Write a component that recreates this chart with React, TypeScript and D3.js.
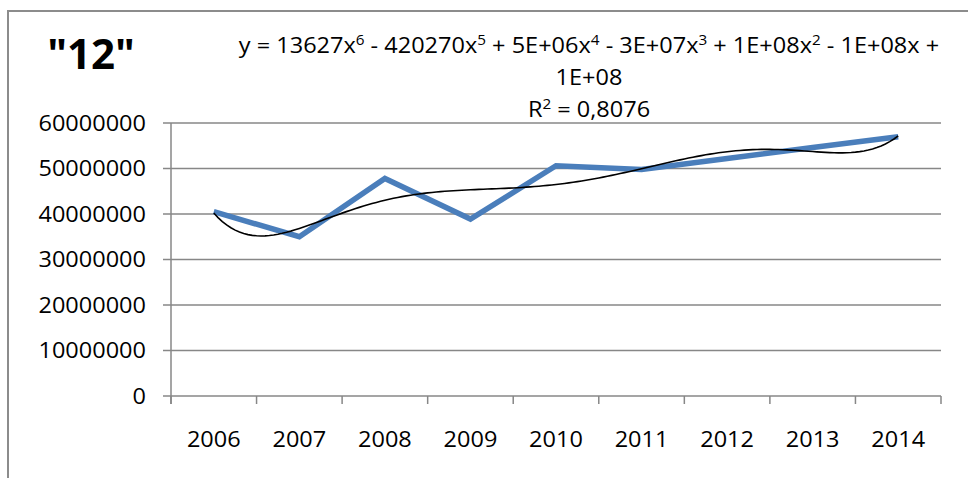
import React from "react";
import * as d3 from "d3";

const categories = ["2006", "2007", "2008", "2009", "2010", "2011", "2012", "2013", "2014"];
const values = [40500000, 35000000, 47800000, 38900000, 50600000, 49800000, 52200000, 54600000, 57000000];
const yTicks = [0, 10000000, 20000000, 30000000, 40000000, 50000000, 60000000];
const titleText = '"12"';
const equationLines = ["y = 13627x⁶ - 420270x⁵ + 5E+06x⁴ - 3E+07x³ + 1E+08x² - 1E+08x +", "1E+08", "R² = 0,8076"];

const SUP: Record<string, string> = { "²": "2", "³": "3", "⁴": "4", "⁵": "5", "⁶": "6" };

function renderSup(t: string) {
  const parts: { s: string; sup: boolean }[] = [];
  for (const ch of t) {
    const sup = ch in SUP;
    const c = sup ? SUP[ch] : ch;
    const last = parts[parts.length - 1];
    if (last && last.sup === sup) last.s += c;
    else parts.push({ s: c, sup });
  }
  return parts.map((p, i) =>
    p.sup ? (
      <tspan key={i} baselineShift="super" fontSize="65%">
        {p.s}
      </tspan>
    ) : (
      <tspan key={i}>{p.s}</tspan>
    )
  );
}

function polyFit(xs: number[], ys: number[], deg: number): number[] {
  const n = deg + 1;
  const A: number[][] = Array.from({ length: n }, () => new Array(n + 1).fill(0));
  for (let r = 0; r < n; r++) {
    for (let c = 0; c < n; c++) {
      A[r][c] = xs.reduce((s, x) => s + Math.pow(x, r + c), 0);
    }
    A[r][n] = xs.reduce((s, x, i) => s + Math.pow(x, r) * ys[i], 0);
  }
  for (let i = 0; i < n; i++) {
    let p = i;
    for (let k = i + 1; k < n; k++) if (Math.abs(A[k][i]) > Math.abs(A[p][i])) p = k;
    [A[i], A[p]] = [A[p], A[i]];
    for (let k = i + 1; k < n; k++) {
      const f = A[k][i] / A[i][i];
      for (let j = i; j <= n; j++) A[k][j] -= f * A[i][j];
    }
  }
  const coef = new Array(n).fill(0);
  for (let i = n - 1; i >= 0; i--) {
    let s = A[i][n];
    for (let j = i + 1; j < n; j++) s -= A[i][j] * coef[j];
    coef[i] = s / A[i][i];
  }
  return coef;
}

export default function App() {
  const W = 968, H = 478;
  const left = 171, right = 941, top = 123, bottom = 396;
  const x = d3.scaleBand<string>().domain(categories).range([left, right]);
  const y = d3.scaleLinear().domain([0, 60000000]).range([bottom, top]);
  const cx = (c: string) => (x(c) as number) + x.bandwidth() / 2;

  const line = d3.line<number>().x((_, i) => cx(categories[i])).y((d) => y(d));

  // 6th order polynomial trendline, least squares on x = 1..n (scaled for stability)
  const xs = categories.map((_, i) => (i + 1) / 5);
  const coef = polyFit(xs, values.map((v) => v / 1e7), 6);
  const evalP = (t: number) => coef.reduce((s, c, k) => s + c * Math.pow(t, k), 0) * 1e7;
  const trendPts = d3.range(0, 8.0001, 0.05).map((u) => {
    const px = cx(categories[0]) + u * x.step();
    return [px, y(evalP((u + 1) / 5))] as [number, number];
  });
  const trend = d3.line().curve(d3.curveLinear)(trendPts) as string;

  const font = "'Open Sans', 'DejaVu Sans', sans-serif";
  const stretch = 1.12;
  const grid = "#878787";

  return (
    <svg width={W} height={H} style={{ position: "absolute", left: 0, top: 0, background: "#fff" }}>
      <rect x={0} y={0} width={W} height={H} fill="#fff" />
      {/* chart border (cropped) */}
      <path d={`M8,${H + 5} L8,11 L${W + 5},11`} fill="none" stroke="#8c8c8c" strokeWidth={2} />

      {/* title */}
      <text x={91} y={69} textAnchor="middle" fontFamily={font} fontWeight="bold" fontSize={42} fill="#000">
        {titleText}
      </text>

      {/* equation */}
      {equationLines.map((t, i) => (
        <text
          key={i}
          transform={`translate(589,${[53, 85, 117][i]}) scale(${stretch},1)`}
          textAnchor="middle"
          fontFamily={font}
          fontSize={21}
          fill="#000"
        >
          {renderSup(t)}
        </text>
      ))}

      {/* gridlines */}
      {yTicks.map((t) => (
        <g key={t}>
          <line x1={left - 8} x2={right} y1={y(t)} y2={y(t)} stroke={grid} strokeWidth={1.5} />
          <text
            transform={`translate(146,${y(t) + 7.5}) scale(${stretch},1)`}
            textAnchor="end"
            fontFamily={font}
            fontSize={21}
            fill="#000"
          >
            {t}
          </text>
        </g>
      ))}
      {/* y axis */}
      <line x1={left} x2={left} y1={top} y2={bottom + 8} stroke={grid} strokeWidth={1.5} />
      {/* x ticks */}
      {categories.concat([""]).map((c, i) => {
        const px = left + i * x.step();
        return <line key={i} x1={px} x2={px} y1={bottom} y2={bottom + 8} stroke={grid} strokeWidth={1.5} />;
      })}
      {categories.map((c) => (
        <text
          key={c}
          transform={`translate(${cx(c)},447) scale(${stretch},1)`}
          textAnchor="middle"
          fontFamily={font}
          fontSize={21}
          fill="#000"
        >
          {c}
        </text>
      ))}

      {/* data line */}
      <path d={line(values) as string} fill="none" stroke="#4a7ebb" strokeWidth={5.5} strokeLinejoin="miter" />
      {/* trendline */}
      <path d={trend} fill="none" stroke="#000" strokeWidth={1.6} />
    </svg>
  );
}
